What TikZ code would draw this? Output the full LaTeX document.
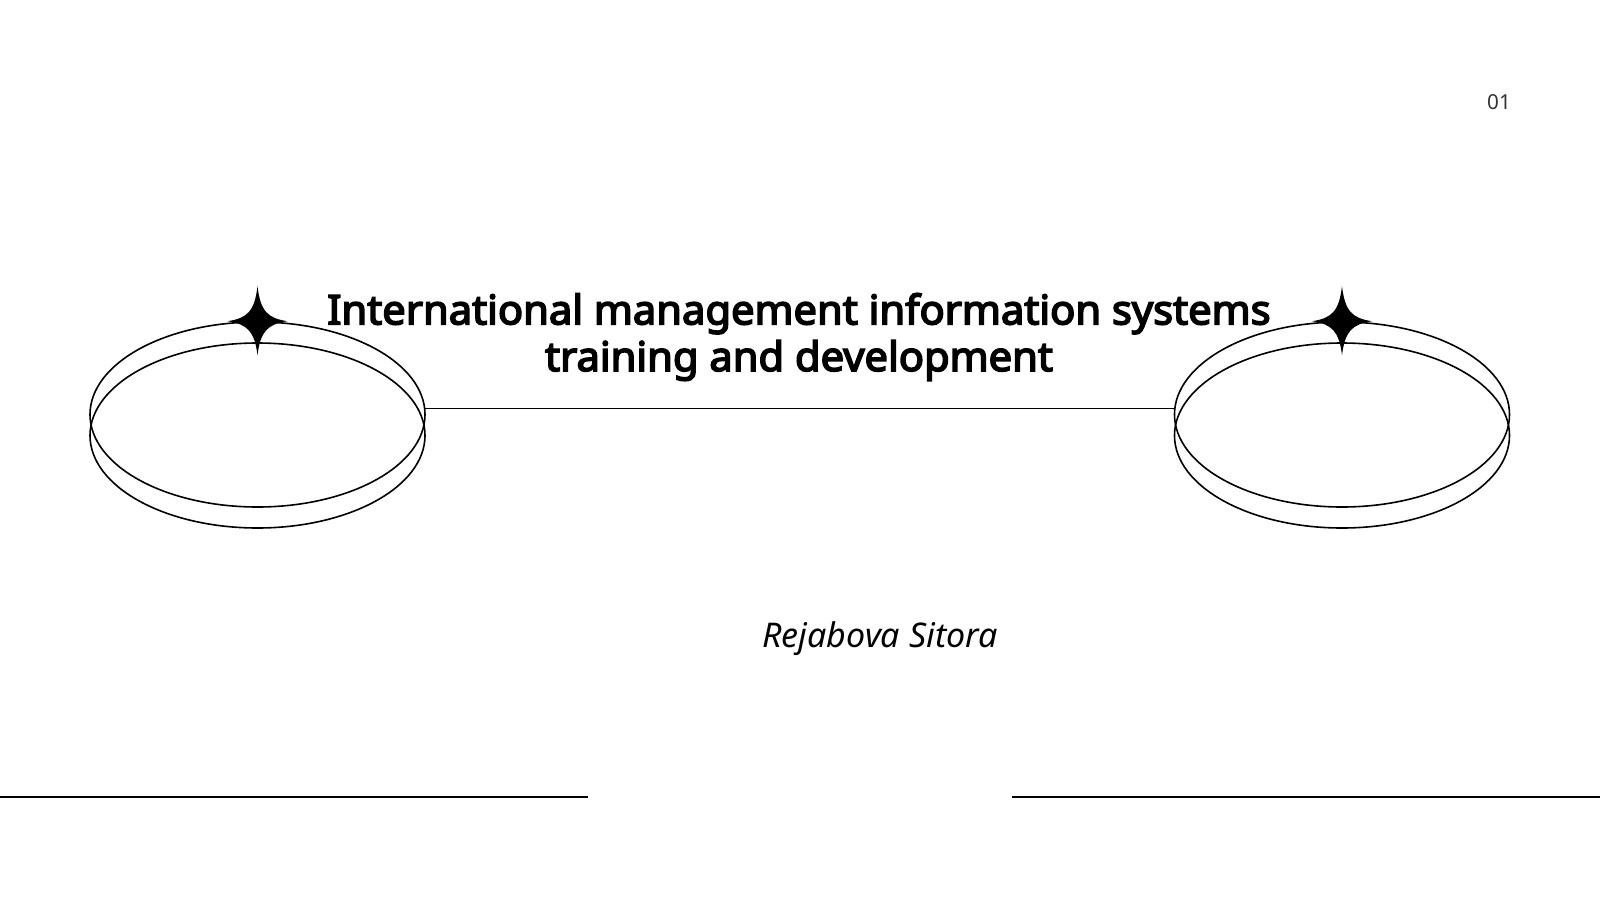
\documentclass[tikz,border=0pt]{standalone}
\usepackage{fontspec}
\setmainfont{Noto Sans}[BoldFont={Noto Sans}, BoldFeatures={FakeBold=4, FakeStretch=1.025}]
\usetikzlibrary{shapes.geometric}

\tikzset{every picture/.style={line width=1.2pt}}
\tikzset{
  ring/.style={draw, ellipse, inner sep=0pt, minimum width=251.25pt, minimum height=138.75pt},
  sparkle/.pic={\fill (0,-34) .. controls (3,-10) and (10,-3) .. (30,0) .. controls (10,3) and (3,10) .. (0,35) .. controls (-3,10) and (-10,3) .. (-30,0) .. controls (-10,-3) and (-3,-10) .. (0,-34) -- cycle ;}
}

\begin{document}
\begin{tikzpicture}[x=0.75pt,y=0.75pt,yscale=-1,xscale=1]
\useasboundingbox (0,0) rectangle (1600,900);

%Shape: Ellipse [left, upper]
\node [ring] (ltop) at (257.5,414.5) {};
%Shape: Ellipse [left, lower]
\node [ring] (lbot) at (257.5,435.5) {};
%Shape: Ellipse [right, upper]
\node [ring] (rtop) at (1342,414.5) {};
%Shape: Ellipse [right, lower]
\node [ring] (rbot) at (1342,435.5) {};

%Shape: Star
\pic at (ltop.north) {sparkle};
%Shape: Star
\pic at (rtop.north) {sparkle};

%Straight Lines
\draw (ltop.2) -- (rtop.178) ;

%Straight Lines
\coordinate (bl0) at (0,797);
\coordinate (bl1) at (588,797);
\draw (bl0) -- (bl1) ;
%Straight Lines
\coordinate (br0) at (1012,797);
\coordinate (br1) at (1600,797);
\draw (br0) -- (br1) ;

% Text Node
\node [align=center, inner sep=0pt, font=\bfseries\fontsize{30.5}{35}\selectfont] (title) at (799,337) {International management information systems\\training and development};
% Text Node
\node [inner sep=0pt, font=\itshape\fontsize{25.5}{29}\selectfont] (author) at (880,639) {Rejabova Sitora};
% Text Node
\node [inner sep=0pt, text=black!80, font=\fontsize{15.5}{18}\selectfont] (pageno) at (1499,102) {01};

\end{tikzpicture}
\end{document}
